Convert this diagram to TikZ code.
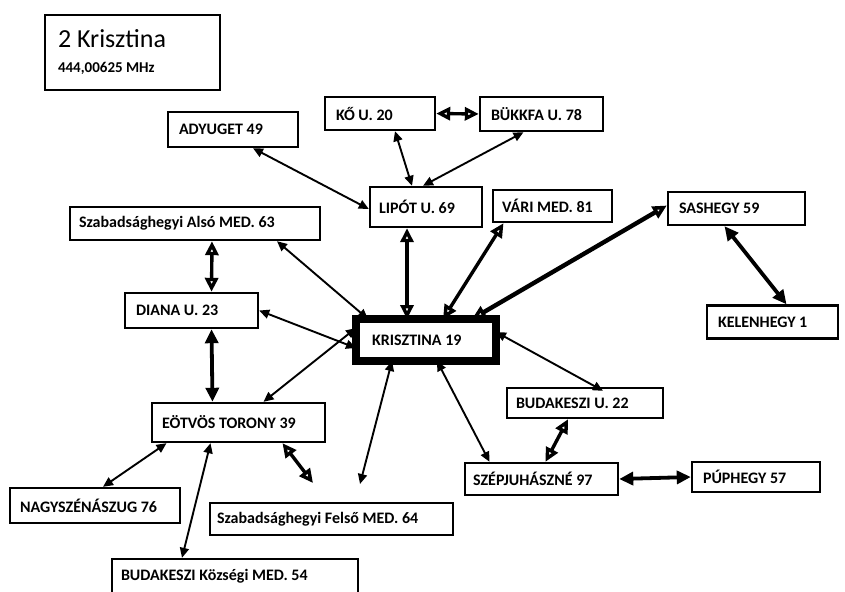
\documentclass[tikz,border=0pt]{standalone}
\usepackage{fontspec}
\setmainfont{Carlito}
\usetikzlibrary{arrows.meta}

\begin{document}
\begin{tikzpicture}[x=1pt, y=-1pt,
    box/.style={draw, line width=2.4pt, fill=white, inner xsep=11pt, inner ysep=2pt, align=flush left, font=\bfseries\fontsize{16}{18}\selectfont},
    link/.style={line width=1.9pt, {Triangle[length=10pt,width=9pt]}-{Triangle[length=10pt,width=9pt]}},
    heavylink/.style={line width=3.8pt, {Triangle[length=14pt,width=13pt]}-{Triangle[length=14pt,width=13pt]}},
    openlink/.style={line width=3.4pt, {Triangle[open,length=14pt,width=13pt]}-{Triangle[open,length=14pt,width=13pt]}}]
        \useasboundingbox (0,0) rectangle (845,591);
        \node [box, font=\fontsize{26}{30}\selectfont, inner xsep=13pt, text width=149, minimum height=75] (title) at (132.5,52.5) {2 Krisztina\\[-5pt]{\bfseries\fontsize{15}{16}\selectfont 444,00625 MHz}};
        \node [box, text width=108, minimum height=35] (ady) at (233,129.5) {ADYUGET 49};
        \node [box, text width=88, minimum height=33] (ko) at (380,113.5) {KŐ U. 20};
        \node [box, text width=101, minimum height=34] (bukk) at (541.5,114) {BÜKKFA U. 78};
        \node [box, inner xsep=9pt, text width=94, minimum height=40] (lipot) at (426,207) {LIPÓT U. 69};
        \node [box, inner xsep=9pt, text width=101, minimum height=32] (vari) at (552.5,206) {VÁRI MED. 81};
        \node [box, inner xsep=9pt, text width=232, minimum height=33] (also) at (195,223.5) {Szabadsághegyi Alsó MED. 63};
        \node [box, text width=111, minimum height=35] (diana) at (191.5,310.5) {DIANA U. 23};
        \node [box, line width=8pt, inner xsep=16pt, text width=108, minimum height=42] (kriszt) at (426,340) {KRISZTINA 19};
        \node [box, text width=115, minimum height=33] (sas) at (736.5,208.5) {SASHEGY 59};
        \node [box, text width=109, minimum height=33] (kelen) at (772.5,322) {KELENHEGY 1};
        \node [box, inner xsep=9pt, text width=138, minimum height=30] (bud) at (585,403) {BUDAKESZI U. 22};
        \node [box, inner xsep=8pt, text width=137, minimum height=32] (szep) at (541.5,479) {SZÉPJUHÁSZNÉ 97};
        \node [box, text width=106, minimum height=30] (pup) at (756,477) {PÚPHEGY 57};
        \node [box, inner xsep=10pt, text width=153, minimum height=39] (eotvos) at (238.5,422.5) {EÖTVÖS TORONY 39};
        \node [box, inner xsep=10pt, text width=150, minimum height=35] (nagy) at (95,505.5) {NAGYSZÉNÁSZUG 76};
        \node [box, inner xsep=7pt, text width=229, minimum height=32] (felso) at (331.5,519) {Szabadsághegyi Felső MED. 64};
        \node [box, inner xsep=9pt, text width=228, minimum height=34] (budkoz) at (235,576) {BUDAKESZI Községi MED. 54};
        \coordinate (felsoA) at (313,483);
        \coordinate (felsoB) at (360,484);
        \draw [link] ([xshift=20]ady.south) -- ([yshift=-2]lipot.west);
        \draw [link] ([xshift=15]ko.south) -- ([xshift=-14]lipot.north);
        \draw [link] ([xshift=-18]bukk.south) -- ([xshift=-3]lipot.north);
        \draw [openlink] (ko.east) -- (bukk.west);
        \draw [openlink] ([xshift=-19]lipot.south) -- ([xshift=-19,yshift=-4]kriszt.north);
        \draw [openlink] ([xshift=-49]vari.south) -- ([xshift=17,yshift=-4]kriszt.north);
        \draw [openlink, line width=4.4pt] ([yshift=3]sas.west) -- ([xshift=46,yshift=-4]kriszt.north);
        \draw [heavylink] ([xshift=-12]sas.south) -- ([xshift=14]kelen.north);
        \draw [openlink] ([xshift=17]also.south) -- ([xshift=20]diana.north);
        \draw [link] ([xshift=82]also.south) -- ([xshift=-58,yshift=-4]kriszt.north);
        \draw [link] (diana.east) -- ([xshift=4,yshift=-8]kriszt.west);
        \draw [heavylink] ([xshift=20]diana.south) -- ([xshift=-26]eotvos.north);
        \draw [link] ([xshift=4,yshift=12]kriszt.west) -- ([xshift=25]eotvos.north);
        \draw [link] ([xshift=-34,yshift=4]kriszt.south) -- (felsoB);
        \draw [link] ([xshift=11,yshift=4]kriszt.south) -- ([xshift=-52]szep.north);
        \draw [link] ([xshift=-4,yshift=8]kriszt.east) -- ([xshift=18,yshift=-4]bud.north);
        \draw [openlink] ([xshift=-17]bud.south) -- ([xshift=4]szep.north);
        \draw [heavylink] (szep.east) -- (pup.west);
        \draw [link] ([xshift=-72]eotvos.south) -- ([xshift=8]nagy.north);
        \draw [link] ([xshift=-28]eotvos.south) -- ([xshift=-53]budkoz.north);
        \draw [openlink] ([xshift=44]eotvos.south) -- (felsoA);
\end{tikzpicture}
\end{document}
